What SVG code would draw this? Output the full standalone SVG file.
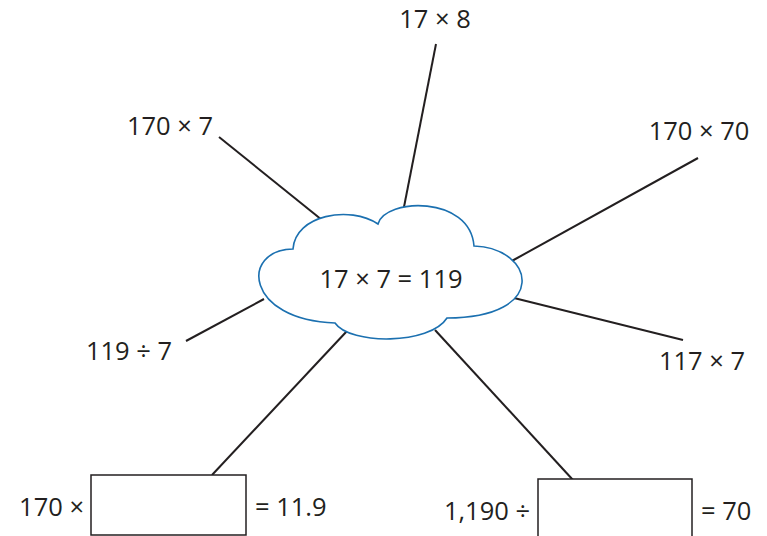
<svg xmlns="http://www.w3.org/2000/svg" width="767" height="536" viewBox="0 0 767 536">
<style>
text{font-family:"Open Sans","Noto Sans",sans-serif;font-size:25.5px;fill:#231f20}
.ln{stroke:#231f20;stroke-width:2;fill:none}
.box{stroke:#231f20;stroke-width:1.5;fill:#fff}
</style>
<rect width="767" height="536" fill="#fff"/>
<g id="connectors">
<line class="ln" x1="436" y1="44" x2="403" y2="212"/>
<line class="ln" x1="219" y1="137" x2="322" y2="220"/>
<line class="ln" x1="698" y1="158" x2="510" y2="262"/>
<line class="ln" x1="186" y1="341" x2="264" y2="299"/>
<line class="ln" x1="514" y1="298" x2="683" y2="340"/>
<line class="ln" x1="347" y1="331" x2="212" y2="475"/>
<line class="ln" x1="435" y1="330" x2="573" y2="480"/>
</g>
<g id="center">
<path d="M293,249 C295,215 350,205 378,224 C385,198 470,195 474,246 C535,248 550,318 447,318 C430,345 350,345 335,323 C245,320 240,250 293,249 Z" fill="#fff" stroke="#1b70b0" stroke-width="1.6"/>
<text x="391" y="288" text-anchor="middle">17 × 7 = 119</text>
</g>
<g id="n-17x8"><text x="435" y="28" text-anchor="middle">17 × 8</text></g>
<g id="n-170x7"><text x="170" y="135" text-anchor="middle">170 × 7</text></g>
<g id="n-170x70"><text x="699" y="140" text-anchor="middle">170 × 70</text></g>
<g id="n-119d7"><text x="129" y="360" text-anchor="middle">119 ÷ 7</text></g>
<g id="n-117x7"><text x="702" y="370" text-anchor="middle">117 × 7</text></g>
<g id="n-box1">
<rect class="box" x="91" y="475" width="155" height="60"/>
<text x="84" y="516" text-anchor="end">170 ×</text>
<text x="255" y="516">= 11.9</text>
</g>
<g id="n-box2">
<rect class="box" x="538" y="479" width="154" height="70"/>
<text x="530" y="520" text-anchor="end">1,190 ÷</text>
<text x="701" y="520">= 70</text>
</g>
</svg>
